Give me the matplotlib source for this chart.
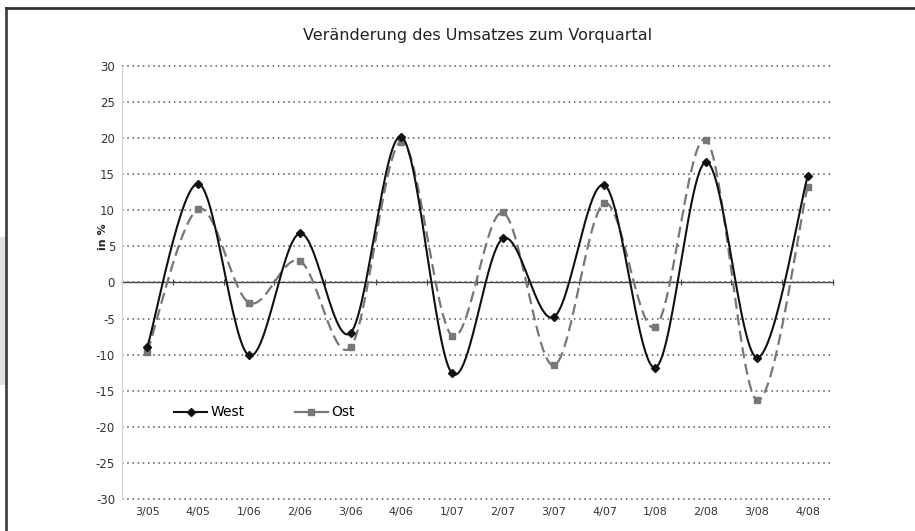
import numpy as np
import matplotlib
matplotlib.use("Agg")
import matplotlib.pyplot as plt
from matplotlib.patches import Rectangle
from matplotlib.lines import Line2D

plt.rcParams["axes.unicode_minus"] = False

# Daten
quartale = ["3/05", "4/05", "1/06", "2/06", "3/06", "4/06", "1/07",
            "2/07", "3/07", "4/07", "1/08", "2/08", "3/08", "4/08"]
west = [-8.9, 13.7, -10.1, 6.8, -7.0, 20.2, -12.6, 6.1, -4.8, 13.5, -11.8, 16.7, -10.4, 14.7]
ost = [-9.6, 10.2, -2.8, 3.0, -9.0, 19.5, -7.4, 9.7, -11.5, 11.0, -6.2, 19.8, -16.3, 13.3]


def glatt(x, y, n=30):
    # geglaettete Linie wie in Excel (Bezier, Catmull-Rom)
    p = np.column_stack([x, y]).astype(float)
    p = np.vstack([p[0], p, p[-1]])
    t = np.linspace(0, 1, n)[:, None]
    out = []
    for i in range(1, len(p) - 2):
        p0, p1, p2, p3 = p[i - 1], p[i], p[i + 1], p[i + 2]
        c1 = p1 + (p2 - p0) / 6
        c2 = p2 - (p3 - p1) / 6
        seg = ((1 - t) ** 3 * p1 + 3 * (1 - t) ** 2 * t * c1
               + 3 * (1 - t) * t ** 2 * c2 + t ** 3 * p2)
        out.append(seg if i == 1 else seg[1:])
    out = np.vstack(out)
    return out[:, 0], out[:, 1]


fig = plt.figure(figsize=(9.15, 5.31), dpi=100)
ax = fig.add_axes([0.1333, 0.0603, 0.7771, 0.8154])

x = np.arange(len(quartale))

xw, yw = glatt(x, west)
xo, yo = glatt(x, ost)
ax.plot(xo, yo, color="#777777", lw=1.6, dashes=(5, 2.5), zorder=3)
ax.plot(x, ost, ls="none", marker="s", ms=4.5, color="#777777", zorder=4)
ax.plot(xw, yw, color="#111111", lw=1.5, zorder=5)
ax.plot(x, west, ls="none", marker="D", ms=4.5, color="#111111", zorder=6)

ax.set_xlim(-0.5, len(quartale) - 0.5)
ax.set_ylim(-30, 30)
ax.set_yticks(range(-30, 31, 5))
ax.set_xticks(x)
ax.set_xticklabels(quartale)
ax.tick_params(axis="x", length=0, labelsize=8, colors="#333333", pad=6)
ax.tick_params(axis="y", length=0, labelsize=8.5, colors="#333333", pad=5)

ax.grid(axis="y", color="#555555", lw=1.1, ls=(0, (1, 2.4)))
for gl in ax.yaxis.get_gridlines():
    gl.set_clip_on(False)
ax.set_axisbelow(True)
for s in ["top", "right", "bottom"]:
    ax.spines[s].set_visible(False)
ax.spines["left"].set_color("#d0d0d0")
ax.spines["left"].set_linewidth(0.8)

# Nulllinie mit Teilstrichen
null = ax.secondary_xaxis(0.5)
null.set_xticks(np.arange(-0.5, len(quartale), 1))
null.set_xticklabels([])
null.tick_params(length=5, direction="inout", color="#444444", width=0.8)
null.spines["bottom"].set_color("#444444")
null.spines["top"].set_color("#444444")
for s in null.spines.values():
    s.set_linewidth(1.0)

ax.set_title("Veränderung des Umsatzes zum Vorquartal", fontsize=11.5,
             color="#222222", pad=19)
ax.text(-0.87, 6.3, "in %", rotation=90, fontsize=8, fontweight="bold",
        ha="center", va="center", color="#222222")

handles = [
    Line2D([], [], color="#111111", lw=1.5, marker="D", ms=4),
    Line2D([], [], color="#777777", lw=1.6, marker="s", ms=4),
]
ax.legend(handles, ["West", "Ost"], loc="center left", bbox_to_anchor=(0.073, 0.2),
          ncol=2, frameon=False, fontsize=10, handlelength=2.4, handletextpad=0.25,
          columnspacing=3.6, borderpad=0, borderaxespad=0)

# Rahmen
fig.patches.append(Rectangle((0, 1 - 385 / 531), 6 / 915, 148 / 531,
                             transform=fig.transFigure, facecolor="#e2e2e4",
                             edgecolor="none", zorder=0))
fig.lines.append(Line2D([6 / 915, 6 / 915], [0, 1 - 8 / 531], transform=fig.transFigure,
                        color="#444444", lw=2))
fig.lines.append(Line2D([6 / 915, 1], [1 - 8 / 531, 1 - 8 / 531], transform=fig.transFigure,
                        color="#333333", lw=2))

fig.savefig("out.png", dpi=100)
